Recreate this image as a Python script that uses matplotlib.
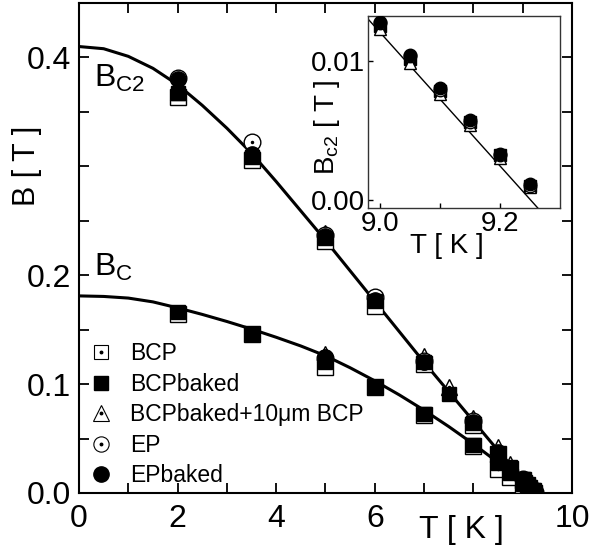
import numpy as np
import matplotlib.pyplot as plt
from matplotlib.ticker import FixedLocator, MultipleLocator
from matplotlib.legend_handler import HandlerTuple

plt.rcParams['font.family'] = ['Liberation Sans', 'DejaVu Sans']
plt.rcParams['mathtext.fontset'] = 'custom'
plt.rcParams['mathtext.rm'] = 'Liberation Sans'
plt.rcParams['mathtext.it'] = 'Liberation Sans'

# ---- data ----
# upper critical field Bc2
bcp_T2 = [2, 3.5, 5, 6, 7, 8, 8.5, 8.75, 9.0]
bcp_B2 = [0.364, 0.306, 0.231, 0.172, 0.118, 0.062, 0.036, 0.022, 0.012]
bcpb_T2 = [2, 3.5, 5, 6, 7, 7.5, 8, 8.5, 8.75, 9.0, 9.05, 9.1, 9.15, 9.2, 9.25]
bcpb_B2 = [0.367, 0.309, 0.234, 0.176, 0.120, 0.091, 0.064, 0.036, 0.024,
           0.0125, 0.0101, 0.0078, 0.0056, 0.0032, 0.0010]
tri_T2 = [2, 3.5, 5, 6, 7, 7.5, 8, 8.5, 8.75, 9.0, 9.05, 9.1, 9.15, 9.2, 9.25]
tri_B2 = [0.368, 0.310, 0.239, 0.179, 0.126, 0.097, 0.069, 0.042, 0.027,
          0.0123, 0.0098, 0.0076, 0.0054, 0.0030, 0.0009]
ep_T2 = [2, 3.5, 5, 6, 7, 8, 9.0, 9.05, 9.1, 9.15, 9.2, 9.25]
ep_B2 = [0.381, 0.322, 0.237, 0.180, 0.121, 0.066,
         0.0127, 0.0103, 0.0079, 0.0056, 0.0032, 0.0010]
epb_T2 = [2, 3.5, 5, 6, 7, 8, 8.5, 9.0, 9.05, 9.1, 9.15, 9.2, 9.25]
epb_B2 = [0.380, 0.311, 0.236, 0.177, 0.120, 0.065, 0.038,
          0.0128, 0.0104, 0.0080, 0.0057, 0.0033, 0.0011]

# thermodynamic critical field Bc
bcp_T1 = [2, 3.5, 5, 6, 7, 8, 8.5, 8.75, 9.0, 9.1, 9.2]
bcp_B1 = [0.164, 0.146, 0.116, 0.097, 0.072, 0.043, 0.022, 0.015, 0.007, 0.004, 0.002]
bcpb_T1 = [2, 3.5, 5, 6, 7, 8, 8.5, 8.75, 9.0, 9.1, 9.2]
bcpb_B1 = [0.166, 0.146, 0.120, 0.097, 0.073, 0.044, 0.028, 0.018, 0.008, 0.005, 0.002]
tri_T1 = [5]
tri_B1 = [0.128]
ep_T1 = [5]
ep_B1 = [0.124]
epb_T1 = [5]
epb_B1 = [0.125]

# fit curves
fit2_T = [0, 0.5, 1, 1.5, 2, 2.5, 3, 3.5, 4, 4.5, 5, 5.5, 6, 6.5, 7, 7.5, 8, 8.5, 9, 9.25]
fit2_B = [0.410, 0.408, 0.401, 0.390, 0.375, 0.356, 0.335, 0.312, 0.286, 0.259,
          0.232, 0.204, 0.176, 0.148, 0.120, 0.093, 0.066, 0.039, 0.013, 0.0]
fit1_T = [0, 0.5, 1, 1.5, 2, 2.5, 3, 3.5, 4, 4.5, 5, 5.5, 6, 6.5, 7, 7.5, 8, 8.5, 9, 9.25]
fit1_B = [0.181, 0.1805, 0.179, 0.1755, 0.170, 0.164, 0.1575, 0.1505, 0.143, 0.135,
          0.126, 0.115, 0.103, 0.090, 0.076, 0.061, 0.045, 0.028, 0.010, 0.0]
ins_fit_T = [8.98, 9.263]
ins_fit_B = [0.0130, -0.0006]

fig = plt.figure(figsize=(6.03, 5.52), dpi=100)
ax = fig.add_axes([0.131, 0.1069, 0.8176, 0.8877])


def draw(a, T, B, marker, filled, ms, dot=True, z=3):
    if filled:
        a.plot(T, B, ls='none', marker=marker, ms=ms, mfc='black', mec='black', mew=1, zorder=z)
    else:
        a.plot(T, B, ls='none', marker=marker, ms=ms, mfc='white', mec='black', mew=1, zorder=z)
        if dot:
            a.plot(T, B, ls='none', marker='o', ms=1.5, mfc='black', mec='black', zorder=z)


ax.plot(fit2_T, fit2_B, color='black', lw=2.2, zorder=2)
ax.plot(fit1_T, fit1_B, color='black', lw=2.2, zorder=2)

for T, B in [(bcp_T2, bcp_B2), (bcp_T1, bcp_B1)]:
    draw(ax, T, B, 's', False, 11.5, z=3)
for T, B in [(bcpb_T2, bcpb_B2), (bcpb_T1, bcpb_B1)]:
    draw(ax, T, B, 's', True, 9.5, z=4)
for T, B in [(tri_T2, tri_B2), (tri_T1, tri_B1)]:
    draw(ax, T, B, '^', False, 12, z=3)
for T, B in [(ep_T2, ep_B2), (ep_T1, ep_B1)]:
    draw(ax, T, B, 'o', False, 12, z=3)
for T, B in [(epb_T2, epb_B2), (epb_T1, epb_B1)]:
    draw(ax, T, B, 'o', True, 11, z=5)

ax.set_xlim(0, 10)
ax.set_ylim(0, 0.45)
ax.xaxis.set_major_locator(FixedLocator([0, 2, 4, 6, 8, 10]))
ax.set_xticklabels(['0', '2', '4', '6', '', '10'])
ax.xaxis.set_minor_locator(MultipleLocator(1))
ax.yaxis.set_major_locator(FixedLocator([0, 0.1, 0.2, 0.3, 0.4]))
ax.set_yticklabels(['0.0', '0.1', '0.2', '', '0.4'])
ax.yaxis.set_minor_locator(MultipleLocator(0.05))
ax.tick_params(which='both', direction='in', top=True, right=True, length=7, width=1.3)
ax.tick_params(axis='x', labelsize=23, pad=8)
ax.tick_params(axis='y', labelsize=23, pad=6)
for s in ax.spines.values():
    s.set_linewidth(1.5)

ax.text(-1.05, 0.3, 'B [ T ]', rotation=90, fontsize=22, ha='center', va='center')
ax.text(7.75, -0.034, 'T [ K ]', fontsize=23, ha='center', va='center', clip_on=False)
ax.text(0.3, 0.381, r'B$_{\mathrm{C2}}$', fontsize=23, ha='left', va='center')
ax.text(0.3, 0.207, r'B$_{\mathrm{C}}$', fontsize=23, ha='left', va='center')

# legend
def h(marker, filled, ms):
    if filled:
        return ax.plot([], [], ls='none', marker=marker, ms=ms, mfc='black', mec='black')[0]
    o = ax.plot([], [], ls='none', marker=marker, ms=ms, mfc='white', mec='black', mew=0.8)[0]
    d = ax.plot([], [], ls='none', marker='o', ms=1.8, mfc='black', mec='black')[0]
    return (o, d)

handles = [h('s', False, 10), h('s', True, 10), h('^', False, 11), h('o', False, 11), h('o', True, 11)]
labels = ['BCP', 'BCPbaked', 'BCPbaked+10\u03bcm BCP', 'EP', 'EPbaked']
ax.legend(handles, labels, loc='lower left', bbox_to_anchor=(-0.025, -0.035), frameon=False,
          fontsize=16.5, handler_map={tuple: HandlerTuple(ndivide=1)},
          handlelength=1.0, handletextpad=0.75, labelspacing=0.33, borderpad=0.5)

# inset
ins = fig.add_axes([0.610, 0.6232, 0.3187, 0.3478])
ins.plot(ins_fit_T, ins_fit_B, color='black', lw=1.0, zorder=2)
draw(ins, bcpb_T2, bcpb_B2, 's', True, 8, z=3)
draw(ins, tri_T2, tri_B2, '^', False, 9, dot=False, z=3)
draw(ins, ep_T2, ep_B2, 'o', False, 9, dot=False, z=4)
draw(ins, epb_T2, epb_B2, 'o', True, 9, z=5)
ins.set_xlim(8.98, 9.3)
ins.set_ylim(-0.0006, 0.0132)
ins.xaxis.set_major_locator(FixedLocator([9.0, 9.2]))
ins.set_xticklabels(['9.0', '9.2'])
ins.xaxis.set_minor_locator(FixedLocator([9.1]))
ins.yaxis.set_major_locator(FixedLocator([0.0, 0.01]))
ins.set_yticklabels(['0.00', '0.01'])
ins.tick_params(which='both', direction='in', length=3.5, width=1)
ins.tick_params(labelsize=20, pad=2)
for s in ins.spines.values():
    s.set_linewidth(1.0)
    s.set_color('#333333')
ins.set_xlabel('T [ K ]', fontsize=20)
ins.xaxis.set_label_coords(0.41, -0.13)
ins.set_ylabel(r'B$_{\mathrm{c2}}$ [ T ]', fontsize=20)
ins.yaxis.set_label_coords(-0.135, 0.42)

fig.savefig('out.png', dpi=100)
